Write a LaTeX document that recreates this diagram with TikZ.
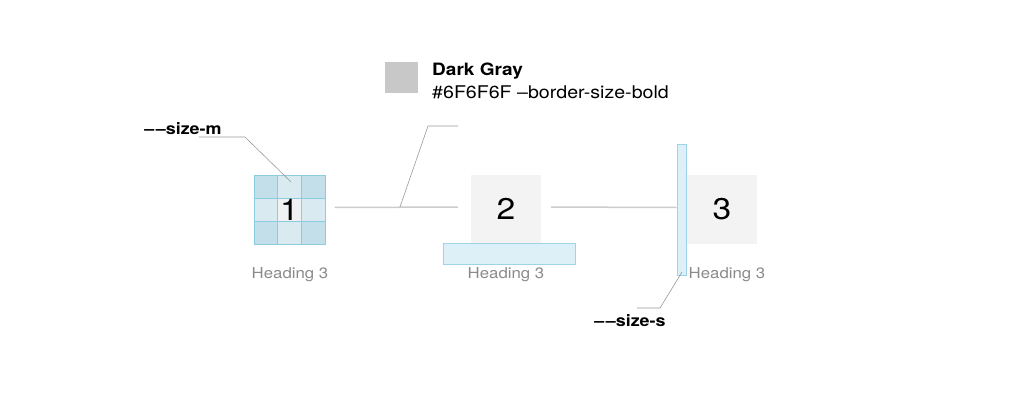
\documentclass[tikz,border=0pt]{standalone}
\usepackage{fontspec}
\setmainfont{TeX Gyre Heros}[FakeStretch=1.12]
\usetikzlibrary{positioning}
\definecolor{boxgray}{HTML}{F3F3F3}
\definecolor{swatch}{HTML}{C8C8C8}
\definecolor{cellA}{HTML}{C3DFEA}
\definecolor{cellB}{HTML}{D9EAF0}
\definecolor{cellC}{HTML}{EFF1F2}
\definecolor{gridblue}{HTML}{8DCBE1}
\definecolor{barfill}{HTML}{DDF0F7}
\definecolor{barline}{HTML}{9ED3E8}
\definecolor{linkgray}{HTML}{CCCCCC}
\definecolor{leadgray}{HTML}{9A9A9A}
\definecolor{headgray}{HTML}{8A8A8A}
\newcommand{\dashpair}{\textendash\kern1.5pt\textendash}
\tikzset{
	tile/.style={fill=boxgray,minimum width=70,minimum height=69,inner sep=0,font=\fontsize{30}{30}\selectfont},
	heading/.style={text=headgray,font=\fontsize{15}{15}\selectfont,inner sep=0},
	tag/.style={font=\fontsize{16}{16}\selectfont\bfseries,inner sep=0},
	bar/.style={fill=barfill,draw=barline,line width=0.8,inner sep=0},
	link/.style={linkgray,line width=1.5},
	leader/.style={leadgray,line width=0.6}
}
\begin{document}
\begin{tikzpicture}[x=1pt,y=-1pt]
	\useasboundingbox (0,0) rectangle (1024,412);
	% grid tile 1
	\foreach \i in {0,1,2}
	\foreach \j in {0,1,2}{
		\pgfmathtruncatemacro{\k}{mod(\i+\j,2)+(\i==1)*(\j==1)*2}
		\ifcase\k \def\cellcol{cellA}\or \def\cellcol{cellB}\else \def\cellcol{cellC}\fi
		\fill[\cellcol,draw=gridblue,line width=0.6] (254+23.67*\i,175+23*\j) rectangle ++(23.67,23);
	}
	\path (289.5,209.5) node[tile,fill=none] (t1) {1}
	(506,209) node[tile] (t2) {2}
	(722,209) node[tile] (t3) {3};
	\node[bar,minimum width=132,minimum height=21] (b2) at (509,253.5) {};
	\node[bar,minimum width=9,minimum height=131] (b3) at (681.5,209.5) {};
	\node[heading] (h1) at (290,275) {Heading 3};
	\node[heading] (h2) at (506,275) {Heading 3};
	\node[heading] (h3) at (727,275) {Heading 3};
	% links
	\draw[link,shorten <=10,shorten >=13] ([yshift=2]t1.east) -- ([yshift=2]t2.west);
	\draw[link,shorten <=10] ([yshift=2]t2.east) -- ([yshift=2]b3.west);
	% legend
	\node[fill=swatch,minimum width=33,minimum height=31,inner sep=0] (sw) at (401.5,77.5) {};
	\node[anchor=west,inner sep=0,font=\fontsize{17}{17}\selectfont\bfseries] (lg1) at (432,71) {Dark Gray};
	\node[anchor=west,inner sep=0,font=\fontsize{17.5}{17.5}\selectfont] (lg2) at (432,92) {\#6F6F6F –border-size-bold};
	\coordinate (k1) at (400,207);
	\draw[leader] (k1) -- (428,126) -- (458,126);
	% size tags
	\node[tag] (sm) at (183,129) {\dashpair size-m};
	\node[tag] (ss) at (630,321) {\dashpair size-s};
	\draw[leader] (199,137) -- (245,137) -- (291,182);
	\draw[leader] (637,308) -- (660,308) -- (682,272);
\end{tikzpicture}
\end{document}
